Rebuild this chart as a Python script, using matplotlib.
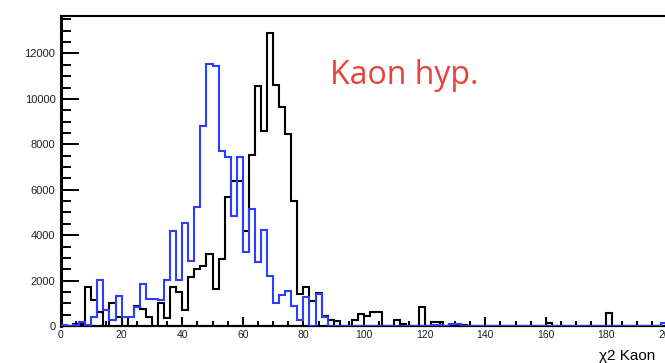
import numpy as np
import matplotlib.pyplot as plt
from matplotlib.ticker import MultipleLocator

# chi2 distributions, 100 bins of width 2 between 0 and 200
edges = np.arange(0, 202, 2)

counts_black = [
    0, 0, 100, 100, 1700, 1150, 600, 0, 1000, 400,            # 0-20
    0, 400, 900, 750, 400, 0, 1000, 350, 1700, 1500,           # 20-40
    690, 2150, 2500, 2650, 3150, 1640, 2950, 5670, 6400, 6400,  # 40-60
    4190, 7540, 10560, 8600, 12900, 10630, 9660, 8450, 5500, 1400,  # 60-80
    1700, 1100, 1450, 450, 250, 200, 0, 0, 250, 550,           # 80-100
    430, 620, 620, 0, 0, 250, 100, 0, 0, 830,                  # 100-120
    0, 180, 180, 0, 60, 0, 30, 0, 0, 0,                        # 120-140
    0, 0, 0, 0, 0, 0, 0, 0, 0, 0,                              # 140-160
    150, 0, 0, 0, 0, 0, 0, 0, 0, 0,                            # 160-180
    570, 0, 0, 0, 0, 0, 0, 0, 0, 0,                            # 180-200
]

counts_blue = [
    60, 0, 30, 175, 30, 390, 2030, 690, 250, 1310,
    400, 400, 830, 1860, 1200, 1200, 1150, 2030, 4190, 2030,
    4550, 2880, 5240, 8800, 11550, 11450, 7700, 7450, 4850, 7450,
    3240, 5150, 2800, 4220, 2200, 1000, 1350, 1550, 900, 250,
    1270, 0, 1420, 390, 0, 0, 0, 0, 0, 0,
    0, 0, 0, 0, 0, 0, 0, 0, 0, 0,
    0, 40, 40, 0, 80, 80, 0, 0, 0, 0,
    0, 0, 0, 0, 0, 0, 0, 0, 0, 0,
    0, 0, 0, 0, 0, 0, 0, 0, 0, 0,
    0, 0, 0, 0, 0, 0, 0, 0, 0, 150,
]

plt.rcParams['font.family'] = ['Liberation Sans', 'DejaVu Sans']

W, H = 665, 363
fig = plt.figure(figsize=(W / 100, H / 100), dpi=100)
# pad runs past the right edge of the canvas
ax = fig.add_axes([61 / W, 37 / H, 606 / W, 310 / H])

ax.stairs(counts_black, edges, color='black', lw=1.5, zorder=3)
ax.stairs(counts_blue, edges, color='#2b3dff', lw=1.5, zorder=4)

ax.set_xlim(0, 200)
ax.set_ylim(0, 13650)

ax.xaxis.set_major_locator(MultipleLocator(20))
ax.xaxis.set_minor_locator(MultipleLocator(5))
ax.yaxis.set_major_locator(MultipleLocator(2000))
ax.yaxis.set_minor_locator(MultipleLocator(500))

ax.tick_params(axis='both', which='both', direction='in', width=1.4, top=False, right=False)
ax.tick_params(axis='y', which='major', length=13, labelsize=8, pad=4, labelcolor='#222222')
ax.tick_params(axis='y', which='minor', length=7)
ax.tick_params(axis='x', which='major', length=6.5, labelsize=7.5, pad=3, labelcolor='#222222')
ax.tick_params(axis='x', which='minor', length=3.6)

ax.spines['left'].set_linewidth(2.2)
ax.spines['bottom'].set_linewidth(1.6)
ax.spines['top'].set_linewidth(1.5)
ax.spines['right'].set_linewidth(1.5)

fig.text(599 / W, 3 / H, 'χ2 Kaon', fontsize=11, va='baseline', ha='left')
fig.text(330 / W, 1 - 84 / H, 'Kaon hyp.', fontsize=23, color='#e8423c',
         family=['Open Sans', 'DejaVu Sans'], va='baseline', ha='left')

fig.savefig('out.png', dpi=100)
